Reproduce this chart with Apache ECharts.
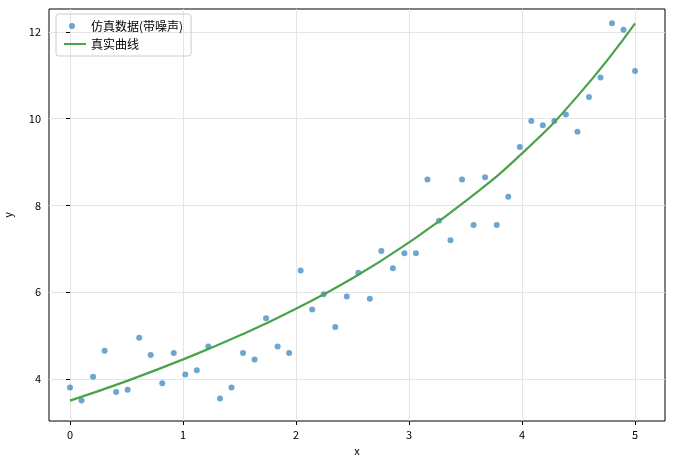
<!DOCTYPE html>
<html><head><meta charset="utf-8">
<script src="https://cdn.jsdelivr.net/npm/echarts@6/dist/echarts.min.js"></script>
<style>html,body{margin:0;padding:0;background:#fff}#c{width:673px;height:465px}</style>
</head><body><div id="c"></div>
<script>
const scatterX = [0,0.102,0.204,0.306,0.408,0.510,0.612,0.714,0.816,0.918,1.020,1.122,1.224,1.327,1.429,1.531,1.633,1.735,1.837,1.939,2.041,2.143,2.245,2.347,2.449,2.551,2.653,2.755,2.857,2.959,3.061,3.163,3.265,3.367,3.469,3.571,3.673,3.776,3.878,3.980,4.082,4.184,4.286,4.388,4.490,4.592,4.694,4.796,4.898,5.0];
const scatterY = [3.8,3.5,4.05,4.65,3.7,3.75,4.95,4.55,3.9,4.6,4.1,4.2,4.75,3.55,3.8,4.6,4.45,5.4,4.75,4.6,6.5,5.6,5.95,5.2,5.9,6.45,5.85,6.95,6.55,6.9,6.9,8.6,7.65,7.2,8.6,7.55,8.65,7.55,8.2,9.35,9.95,9.85,9.95,10.1,9.7,10.5,10.95,12.2,12.05,11.1];
const curveX = [0,0.5,1,1.5,2,2.5,3,3.5,4,4.5,5];
const curveY = [3.5,3.95,4.45,5.0,5.62,6.32,7.15,8.1,9.2,10.55,12.2];
const xTicks = [0,1,2,3,4,5];
const yTicks = [4,6,8,10,12];
const font = '"Noto Sans CJK SC", "DejaVu Sans", sans-serif';
const chart = echarts.init(document.getElementById('c'));
chart.setOption({
  animation:false,
  grid:{left:49,right:8,top:9,bottom:44,containLabel:false,outerBoundsMode:'none',show:true,borderColor:'#000',borderWidth:1},
  legend:{left:56,top:14,orient:'vertical',itemGap:6,padding:[6,8],borderColor:'#ccc',borderWidth:1,borderRadius:3,
    textStyle:{fontFamily:font,fontSize:12,color:'#000'},itemWidth:22,itemHeight:10,
    data:[{name:'仿真数据(带噪声)',icon:'path://M8,2a3,3 0 1,0 0.001,0z M0,0h0.01v0.01H0z M22,10h0.01v0.01H22z'},
          {name:'真实曲线',icon:'path://M0,4h22v2H0z'}]},
  xAxis:{type:'value',min:-0.186,max:5.265,name:'x',nameLocation:'middle',nameGap:24,
    nameTextStyle:{fontFamily:font,fontSize:11,color:'#000'},
    axisLine:{show:false},
    axisTick:{show:true,customValues:xTicks,length:4,lineStyle:{color:'#000'}},
    axisLabel:{customValues:xTicks,fontFamily:font,fontSize:11,color:'#000',margin:8},
    splitLine:{show:true,lineStyle:{color:'#e5e5e5'}}},
  yAxis:{type:'value',min:3.03,max:12.53,name:'y',nameLocation:'middle',nameGap:36,
    nameTextStyle:{fontFamily:font,fontSize:11,color:'#000'},
    axisLine:{show:false},
    axisTick:{show:true,customValues:yTicks,length:4,lineStyle:{color:'#000'}},
    axisLabel:{customValues:yTicks,fontFamily:font,fontSize:11,color:'#000',margin:8},
    splitLine:{show:true,lineStyle:{color:'#e5e5e5'}}},
  series:[
    {name:'仿真数据(带噪声)',type:'scatter',symbolSize:6,
     itemStyle:{color:'#1f77b4',opacity:0.65},
     data:scatterX.map((x,i)=>[x,scatterY[i]])},
    {name:'真实曲线',type:'line',smooth:true,showSymbol:false,symbol:'none',
     lineStyle:{color:'#4aa34a',width:2.2},itemStyle:{color:'#4aa34a'},
     data:curveX.map((x,i)=>[x,curveY[i]])}
  ]
});
</script></body></html>
